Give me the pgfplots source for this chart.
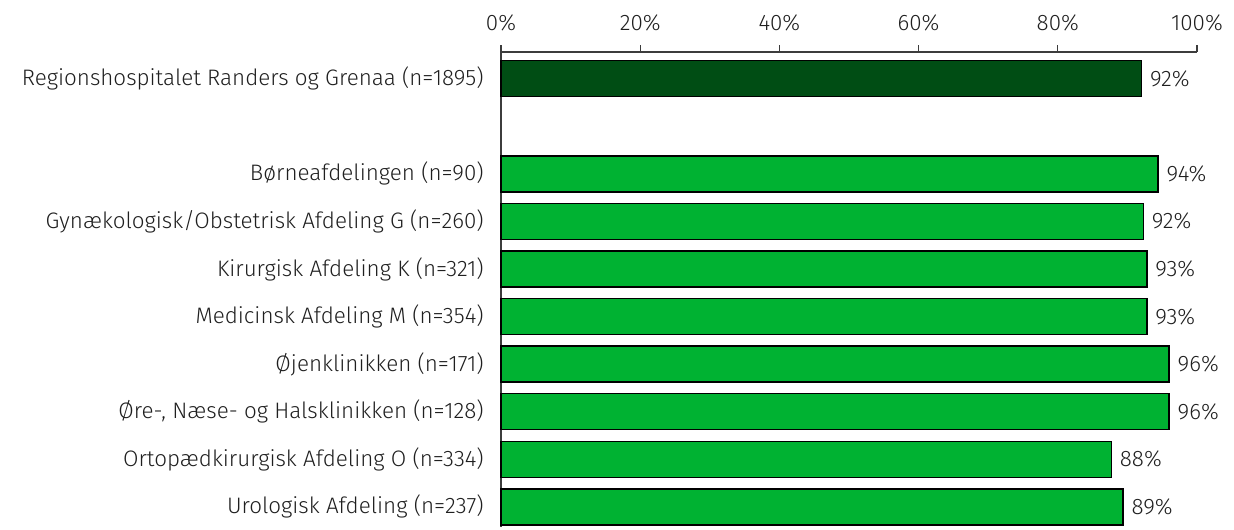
\documentclass[border=0pt]{standalone}
\usepackage{fontspec}
\setmainfont{Fira Sans Light}
\usepackage{pgfplots}
\pgfplotsset{compat=1.18}
\definecolor{darkg}{RGB}{0,77,20}
\definecolor{brightg}{RGB}{0,178,50}
\definecolor{axgray}{RGB}{60,60,60}
\begin{document}
\begin{tikzpicture}
\begin{axis}[
  at={(0,0)}, anchor=north west,
  scale only axis,
  width=522pt, height=356.1pt,
  xbar, bar shift=0pt, bar width=0.757,
  xmin=0, xmax=100,
  ymin=-0.56, ymax=9.42,
  y dir=reverse,
  axis x line*=top,
  axis y line*=left,
  axis line style={axgray, line width=0.8pt},
  x axis line style={-}, y axis line style={-},
  xtick={0,20,...,100},
  xticklabel={\pgfmathprintnumber{\tick}\%},
  /pgf/number format/assume math mode=true,
  xtick style={axgray, line width=0.8pt},
  major tick length=5pt,
  xtick align=outside,
  ytick={0,2,3,4,5,6,7,8,9},
  ytick style={draw=none},
  yticklabels={
    Regionshospitalet Randers og Grenaa (n=1895),
    Børneafdelingen (n=90),
    Gynækologisk/Obstetrisk Afdeling G (n=260),
    Kirurgisk Afdeling K (n=321),
    Medicinsk Afdeling M (n=354),
    Øjenklinikken (n=171),
    {Øre-, Næse- og Halsklinikken (n=128)},
    Ortopædkirurgisk Afdeling O (n=334),
    Urologisk Afdeling (n=237)},
  tick label style={font=\fontsize{16.8}{19}\selectfont, text=black!88},
  yticklabel style={xshift=-4.5pt},
  xticklabel style={yshift=7pt},
  nodes near coords={\pgfmathprintnumber[fixed,precision=0]{\pgfplotspointmeta}\%},
  nodes near coords style={anchor=west, xshift=2.5pt, font=\fontsize{16.8}{19}\selectfont, text=black!88},
  point meta=x,
  clip=false,
]
\addplot[fill=darkg, draw=black, line width=1.1pt] coordinates {(92.05,0)};
\addplot[fill=brightg, draw=black, line width=1.1pt] coordinates {
  (94.4,2) (92.3,3) (92.8,4) (92.8,5) (96.0,6) (96.0,7) (87.7,8) (89.4,9)};
\end{axis}
\pgfresetboundingbox
\path[use as bounding box] (-375.75pt,39pt) rectangle (549.75pt,-357.75pt);
\end{tikzpicture}
\end{document}
